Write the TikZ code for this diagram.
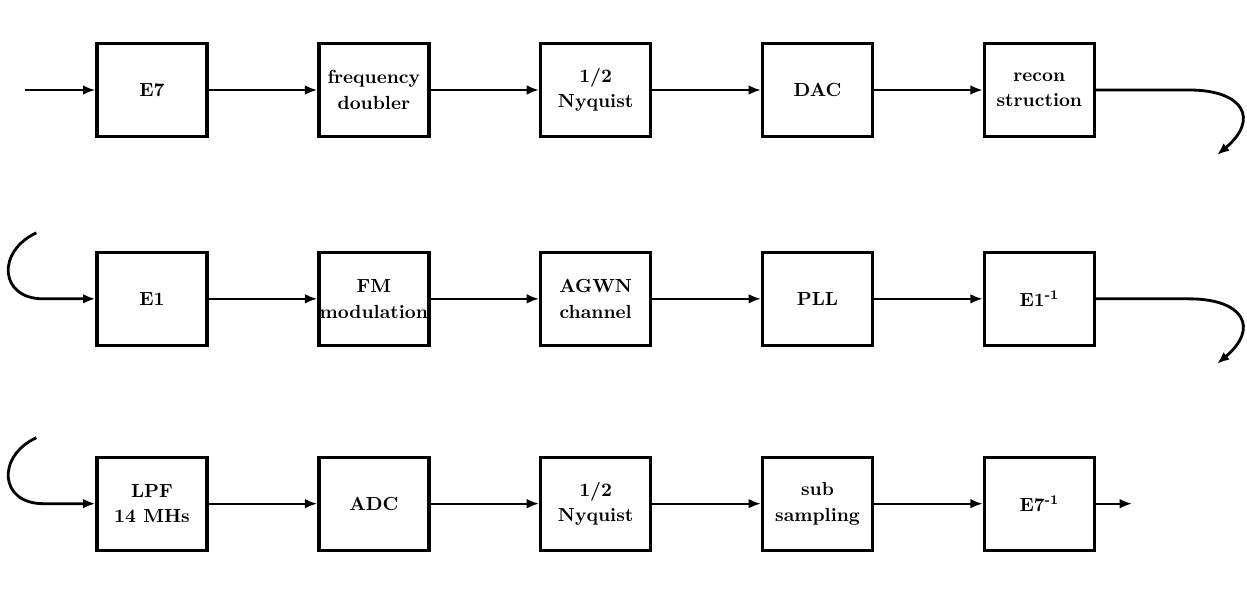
\documentclass[tikz,border=0pt]{standalone}
\usepackage{tikz}
\usetikzlibrary{positioning,arrows.meta}

\begin{document}
\begin{tikzpicture}[node distance=2.17cm,>={Latex[length=7pt,width=5.5pt]},line width=1.3pt]
\tikzstyle{block}=[rectangle,draw=black,line width=1.9pt,align=center,minimum width=2.2cm,minimum height=1.86cm,inner sep=0.5pt,font=\fontsize{10.8}{14.5}\selectfont\bfseries]
\tikzstyle{wrapline}=[line width=1.6pt]
\useasboundingbox (-3.04,1.80) rectangle (21.90,-10.04);
% first row
\node[block] (e7) at (0,0) {E7};
\node[block, right=of e7] (doubler) {frequency\\doubler};
\node[block, right=of doubler] (nyq1) {1/2\\Nyquist};
\node[block, right=of nyq1] (dac) {DAC};
\node[block, right=of dac] (recon) {recon\\struction};
% second row
\node[block, below=2.25cm of e7] (e1) {E1};
\node[block, right=of e1] (fm) {FM\\modulation};
\node[block, right=of fm] (chan) {AGWN\\channel};
\node[block, right=of chan] (pll) {PLL};
\node[block, right=of pll] (e1inv) {E1\textsuperscript{-1}};
% third row
\node[block, below=2.17cm of e1] (lpf) {LPF\\14 MHs};
\node[block, right=of lpf] (adc) {ADC};
\node[block, right=of adc] (nyq2) {1/2\\Nyquist};
\node[block, right=of nyq2] (sub) {sub\\sampling};
\node[block, right=of sub] (e7inv) {E7\textsuperscript{-1}};
% free ends
\coordinate[left=1.4cm of e7.west] (in);
\coordinate[below right=1.3cm and 2.42cm of recon.east] (wrap1);
\coordinate[above left=1.32cm and 1.18cm of e1.west] (wrap2);
\coordinate[below right=1.3cm and 2.42cm of e1inv.east] (wrap3);
\coordinate[above left=1.32cm and 1.18cm of lpf.west] (wrap4);
\coordinate[right=0.72cm of e7inv.east] (out);
% chain arrows
\draw[->] (in) -- (e7);
\draw[->] (e7) -- (doubler);
\draw[->] (doubler) -- (nyq1);
\draw[->] (nyq1) -- (dac);
\draw[->] (dac) -- (recon);
\draw[->,wrapline] (recon.east) -- ++(1.86,0) to[out=0,in=40,looseness=2.0] (wrap1);
\draw[->,wrapline] (wrap2) to[out=205,in=180,looseness=1.7] ++(0.14,-1.32) -- (e1.west);
\draw[->] (e1) -- (fm);
\draw[->] (fm) -- (chan);
\draw[->] (chan) -- (pll);
\draw[->] (pll) -- (e1inv);
\draw[->,wrapline] (e1inv.east) -- ++(1.86,0) to[out=0,in=40,looseness=2.0] (wrap3);
\draw[->,wrapline] (wrap4) to[out=205,in=180,looseness=1.7] ++(0.14,-1.32) -- (lpf.west);
\draw[->] (lpf) -- (adc);
\draw[->] (adc) -- (nyq2);
\draw[->] (nyq2) -- (sub);
\draw[->] (sub) -- (e7inv);
\draw[->] (e7inv) -- (out);
\end{tikzpicture}
\end{document}
